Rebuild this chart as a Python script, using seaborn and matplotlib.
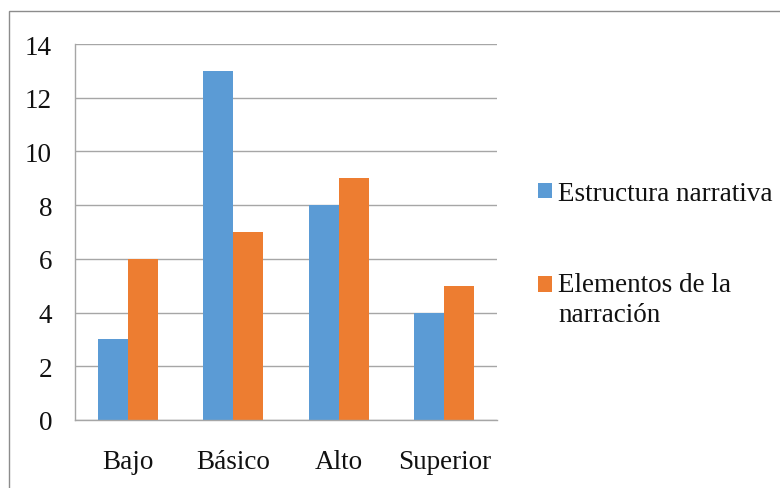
import matplotlib
matplotlib.use("Agg")
import matplotlib.pyplot as plt
from matplotlib.patches import Rectangle, Patch
from matplotlib.ticker import FixedLocator
from matplotlib.legend_handler import HandlerPatch
import seaborn as sns
import pandas as pd

# Results per performance level
niveles = ["Bajo", "Básico", "Alto", "Superior"]
estructura_narrativa = [3, 13, 8, 4]
elementos_narracion = [6, 7, 9, 5]
series = ["Estructura narrativa", "Elementos de la\nnarración"]
colores = ["#5B9BD5", "#ED7D31"]
y_ticks = [0, 2, 4, 6, 8, 10, 12, 14]

df = pd.DataFrame({
    "nivel": niveles * 2,
    "valor": estructura_narrativa + elementos_narracion,
    "serie": [series[0]] * len(niveles) + [series[1]] * len(niveles),
})

sns.set_theme(style="white")
plt.rcParams["font.family"] = ["Liberation Serif", "DejaVu Serif"]
plt.rcParams["text.color"] = "#111111"

fig = plt.figure(figsize=(7.8, 4.89), dpi=100)
ax = fig.add_axes([75 / 780, 1 - 421 / 489, (497 - 75) / 780, (421 - 45) / 489])

sns.barplot(data=df, x="nivel", y="valor", hue="serie", order=niveles,
            hue_order=series, palette=colores, width=0.57, saturation=1,
            ax=ax, legend=False, linewidth=0)

grid_c = "#a6a6a6"
ax.set_ylim(0, 14)
ax.set_xlim(-0.5, len(niveles) - 0.5)
ax.set_yticks(y_ticks)
ax.set_yticklabels([str(v) for v in y_ticks])
ax.yaxis.grid(True, color=grid_c, linewidth=1.0)
ax.set_axisbelow(True)
ax.set_xlabel("")
ax.set_ylabel("")

for s in ["top", "right"]:
    ax.spines[s].set_visible(False)
for s in ["left", "bottom"]:
    ax.spines[s].set_color(grid_c)
    ax.spines[s].set_linewidth(1.0)

fs = 19.5
ax.tick_params(axis="y", length=6.5, width=1.0, color=grid_c, pad=10,
               labelsize=fs, labelcolor="#111111")
ax.tick_params(axis="x", which="major", length=0, pad=21,
               labelsize=fs, labelcolor="#111111")
ax.xaxis.set_minor_locator(FixedLocator([i - 0.5 for i in range(len(niveles) + 1)]))
ax.tick_params(axis="x", which="minor", length=6.5, width=1.0, color=grid_c)


# Legend swatch aligned with the first line of a wrapped label
def swatch_first_line(shift):
    def make(legend, orig_handle, xdescent, ydescent, width, height, fontsize):
        return Rectangle((-xdescent, -ydescent + shift), width, height)
    return HandlerPatch(patch_func=make)


handles = [Patch(facecolor=c, edgecolor="none") for c in colores]
leg = fig.legend(handles, series, loc="upper left",
                 bbox_to_anchor=(538 / 780, 1 - 182 / 489),
                 frameon=False, fontsize=fs, borderpad=0, borderaxespad=0,
                 handlelength=0.52, handleheight=0.52, handletextpad=0.22,
                 labelspacing=2.42,
                 handler_map={handles[1]: swatch_first_line(10.8)})
for t in leg.get_texts():
    t.set_linespacing(1.28)

# Outer chart frame
fig.add_artist(Rectangle((9 / 780, -0.05), 1.1, 1 - 12 / 489 + 0.05,
                         transform=fig.transFigure, fill=False,
                         edgecolor="#8c8c8c", linewidth=1.0))

fig.savefig("out.png", dpi=100)
